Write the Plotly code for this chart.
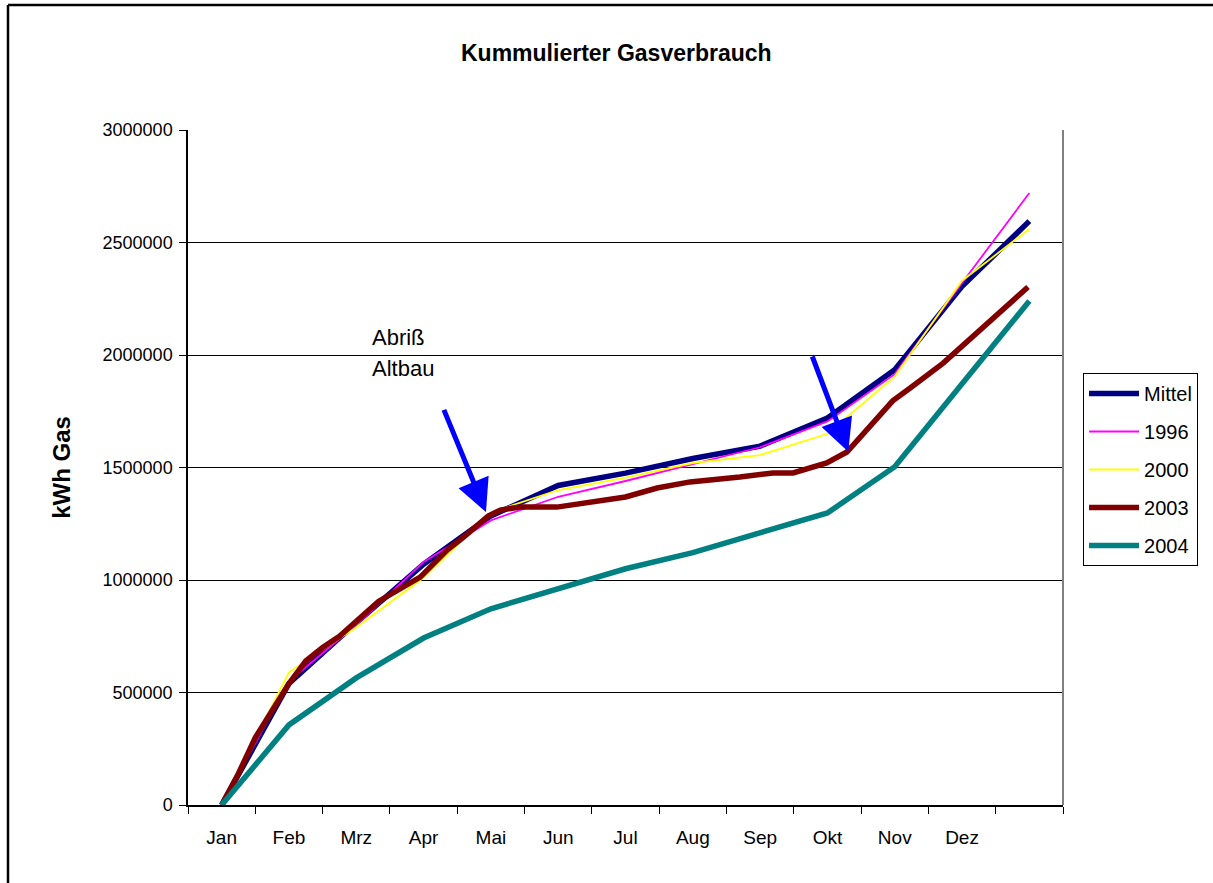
import plotly.graph_objects as go

# Month categories (position 13 is the unlabeled year-end slot)
month_labels = ["Jan", "Feb", "Mrz", "Apr", "Mai", "Jun", "Jul", "Aug", "Sep", "Okt", "Nov", "Dez"]
month_pos = list(range(1, 14))

# Cumulative gas consumption in kWh, monthly readings
mittel = [0, 540000, 810000, 1070000, 1285000, 1420000, 1475000, 1540000, 1595000, 1720000, 1935000, 2305000, 2595000]
y1996 = [0, 550000, 800000, 1080000, 1265000, 1370000, 1440000, 1515000, 1590000, 1705000, 1915000, 2320000, 2720000]
y2000 = [0, 590000, 790000, 1010000, 1300000, 1400000, 1455000, 1520000, 1555000, 1650000, 1905000, 2330000, 2560000]
y2004 = [0, 356000, 565000, 742000, 872000, 960000, 1050000, 1122000, 1210000, 1298000, 1503000, 1870000, 2240000]

# 2003 was read more often than monthly (positions in month units)
x2003 = [1.0, 1.25, 1.5, 2.0, 2.25, 2.5, 2.75, 3.33, 3.95, 4.35, 4.59, 4.96, 5.14, 5.43, 5.98,
         7.0, 7.47, 7.96, 8.7, 9.19, 9.49, 9.99, 10.29, 10.97, 11.23, 11.72, 12.98]
v2003 = [0, 140000, 300000, 540000, 640000, 700000, 750000, 905000, 1013000, 1133000, 1190000, 1284000, 1311000, 1324000, 1324000,
         1369000, 1409000, 1436000, 1458000, 1476000, 1476000, 1520000, 1569000, 1796000, 1853000, 1964000, 2302000]

FONT = "Liberation Sans, Arial, sans-serif"

series = [
    ("Mittel", month_pos, mittel, "#000080", 5.5),
    ("1996", month_pos, y1996, "#FF00FF", 1.8),
    ("2000", month_pos, y2000, "#FFFF00", 1.8),
    ("2003", x2003, v2003, "#800000", 5.5),
    ("2004", month_pos, y2004, "#008080", 5.5),
]

fig = go.Figure()
for name, xs, ys, color, width in series:
    fig.add_trace(go.Scatter(
        x=xs, y=ys, name=name, mode="lines", legendgroup=name,
        line=dict(color=color, width=width),
    ))

fig.update_layout(
    template="none",
    width=1213, height=883, autosize=False,
    margin=dict(l=188, r=150, t=130, b=78),
    paper_bgcolor="white", plot_bgcolor="white",
    font=dict(family=FONT, size=18, color="black"),
    showlegend=True,
    legend=dict(
        x=1.0229, y=0.64, xanchor="left", yanchor="top",
        bordercolor="black", borderwidth=1, bgcolor="white",
        font=dict(family=FONT, size=20, color="black"),
        tracegroupgap=9, traceorder="grouped", itemwidth=50,
    ),
)

fig.update_xaxes(
    range=[0.5, 13.5], tickmode="array", tickvals=month_pos[:12], ticktext=month_labels,
    ticks="", showgrid=False, zeroline=False,
    showline=True, linecolor="black", linewidth=1.5,
    tickfont=dict(family=FONT, size=19, color="black"),
    ticklabelstandoff=14,
    minor=dict(tick0=0.5, dtick=1, ticks="outside", ticklen=7, tickcolor="black", tickwidth=1, showgrid=False),
)

fig.update_yaxes(
    range=[0, 3000000], tick0=0, dtick=500000, tickformat="d",
    showgrid=True, gridcolor="black", gridwidth=1, zeroline=False,
    showline=True, linecolor="black", linewidth=1.5,
    ticks="outside", ticklen=7, tickcolor="black", tickwidth=1,
    tickfont=dict(family=FONT, size=18, color="black"),
    ticklabelstandoff=3,
    title=dict(text="<b>kWh Gas</b>", font=dict(family=FONT, size=24, color="black"), standoff=25),
)

# Plot area right edge and outer frame (top and left edges)
fig.add_shape(type="line", xref="paper", yref="paper", x0=1, x1=1, y0=0, y1=1,
              line=dict(color="#808080", width=2))
frame_left = (8 - 188) / 875
frame_top = (805 - 5) / 675
fig.add_shape(type="line", xref="paper", yref="paper", x0=frame_left, x1=(1213 - 188) / 875,
              y0=frame_top, y1=frame_top, line=dict(color="black", width=2.5), layer="below")
fig.add_shape(type="line", xref="paper", yref="paper", x0=frame_left, x1=frame_left,
              y0=(805 - 883) / 675, y1=frame_top, line=dict(color="black", width=2.5), layer="below")

# Chart title
fig.add_annotation(text="<b>Kummulierter Gasverbrauch</b>", xref="paper", yref="paper",
                   x=(616 - 188) / 875, y=(805 - 53) / 675, xanchor="center", yanchor="middle",
                   showarrow=False, font=dict(family=FONT, size=23, color="black"))

# Note on demolition of the old building
fig.add_annotation(text="Abriß", xref="paper", yref="paper", x=(370 - 188) / 875, y=(805 - 337) / 675,
                   xanchor="left", yanchor="middle", showarrow=False,
                   font=dict(family=FONT, size=22, color="black"))
fig.add_annotation(text="Altbau", xref="paper", yref="paper", x=(370 - 188) / 875, y=(805 - 368) / 675,
                   xanchor="left", yanchor="middle", showarrow=False,
                   font=dict(family=FONT, size=22, color="black"))

# Arrows marking the changes in consumption
for tip, tail in [((4.927, 1302000), (4.293, 1763000)), ((10.31, 1570000), (9.767, 2000000))]:
    fig.add_annotation(x=tip[0], y=tip[1], ax=tail[0], ay=tail[1], xref="x", yref="y",
                       axref="x", ayref="y", text="", showarrow=True,
                       arrowhead=2, arrowsize=1.3, arrowwidth=5, arrowcolor="#0000FF", standoff=0)

fig.write_html("out.html")
